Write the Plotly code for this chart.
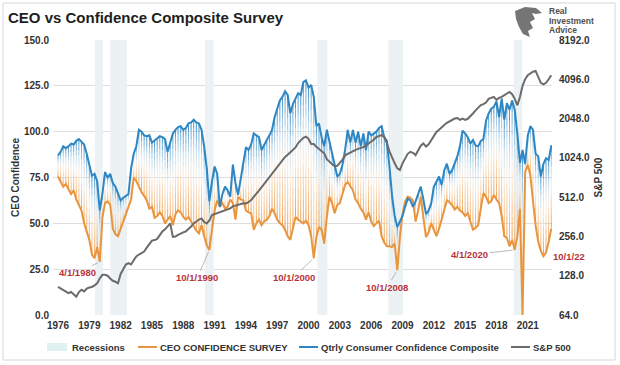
import math
import plotly.graph_objects as go

# ---------------- data (quarterly, 1976Q1 .. 2023Q2) ----------------
ceo_confidence = [
    75.5, 73, 70, 71.5, 69, 66, 68, 63, 60, 57,
    50, 45, 41, 33, 31, 37, 29, 53, 61, 62,
    60, 47, 44, 43, 47, 51, 55, 58, 63, 75,
    73, 70, 67, 65, 62.5, 58, 59, 53, 54, 56,
    54, 50, 52, 54, 49, 55, 57, 56, 53.5, 52,
    53.5, 51, 48, 46, 44.5, 49, 43, 38, 35.5, 48,
    57, 62.5, 59, 61, 58, 59, 63, 61, 52, 64.5,
    63, 62.5, 57, 56, 55.5, 46.5, 50, 52, 49, 51,
    52, 54, 58, 55.5, 52, 50, 49, 46.5, 43, 41,
    46.5, 53.5, 52, 51, 50, 51.5, 49, 43, 31, 42.5,
    48, 46.5, 39, 53.5, 64.5, 61, 55.5, 60, 61, 66,
    71, 72.5, 70, 68, 63, 61, 58, 56, 52, 56,
    51, 48.5, 50, 51.5, 43, 39.5, 37.5, 37.5, 37, 39,
    24.5, 42.5, 55, 62, 64.5, 64, 62.5, 51, 57, 64.5,
    53, 42.5, 45, 50, 46.5, 43, 47, 52, 57, 62.5,
    61.5, 60, 57.5, 59, 57, 56, 54, 55.5, 51, 46.5,
    47.5, 49, 58, 66.5, 64.5, 61, 62, 65.5, 63, 61,
    54, 43, 42, 37.5, 41, 35.5, 43, 58, 0, 78,
    82, 76, 62, 49, 40, 35, 32, 34, 40, 47,
]

consumer_composite = [
    87, 89, 92, 91, 92, 93.5, 93, 95, 96, 94.5,
    93, 88, 82, 76, 77, 73, 57, 66, 78, 75,
    77, 72, 70, 66, 62.5, 64, 65, 66, 80, 88,
    92, 101, 100, 98, 97.5, 98, 94, 95, 96, 97.5,
    97, 96, 89, 94, 99, 101, 102.5, 103, 101, 102,
    104.5, 105, 106.5, 105, 104.5, 101, 92, 80, 62, 73,
    81, 77, 59, 66, 70, 68, 64.5, 82, 72, 65.5,
    75, 83, 91.5, 90, 93, 99, 98, 97, 90, 93,
    95.5, 98, 101, 108, 113, 117, 119, 122, 120, 110,
    115, 118, 121, 120, 127, 128, 124, 125.5, 119, 103,
    104.5, 97, 92, 101, 95, 88, 83, 75.5, 77, 82,
    90, 101, 94, 101, 94, 100, 92, 99, 90, 100,
    98, 99, 100, 102, 103, 97, 95, 81, 65, 54,
    48, 51, 54, 59, 63.5, 62.5, 59, 62, 65.5, 70,
    63, 55, 57, 61, 70, 73, 75.5, 71, 79, 82.5,
    77, 79, 82.5, 86.5, 92, 100.5, 99, 97, 93.5, 95.5,
    92.5, 92, 95, 96, 106, 110, 112.5, 113.5, 116.5, 108,
    118, 106.5, 115.5, 112, 117, 112, 99, 83, 90, 82.5,
    98, 103, 101, 88, 86.5, 75.5, 82.5, 85.5, 84.5, 92.5,
]

sp500 = [
    105, 102, 100, 96, 94, 96, 92, 88.5, 96, 100,
    97, 102, 104, 105, 108, 112, 122, 130, 130, 128,
    122, 117, 115, 112, 132, 145, 156, 160, 156, 168,
    180, 186, 190, 196, 210, 222, 238, 240, 245, 262,
    280, 290, 304, 322, 254, 256, 263, 270, 275, 280,
    290, 305, 322, 335, 345, 352, 330, 322, 340, 374,
    380, 385, 392, 398, 404, 410, 420, 435, 442, 448,
    455, 460, 458, 468, 486, 510, 545, 575, 610, 650,
    690, 740, 780, 830, 875, 930, 980, 1040, 1080, 1130,
    1180, 1230, 1330, 1400, 1460, 1490, 1430, 1310, 1310, 1245,
    1200, 1150, 1110, 1000, 960, 920, 880, 890, 940, 990,
    1070, 1100, 1130, 1150, 1180, 1200, 1220, 1240, 1260, 1320,
    1360, 1410, 1480, 1510, 1530, 1480, 1330, 1150, 1015, 930,
    850, 826, 930, 1015, 1100, 1140, 1120, 1075, 1170, 1270,
    1320, 1250, 1300, 1400, 1490, 1620, 1680, 1770, 1830, 1900,
    1950, 2000, 2050, 2070, 2000, 2050, 2000, 2040, 2120, 2240,
    2370, 2480, 2600, 2640, 2720, 2900, 2950, 3000, 2850, 2950,
    3000, 3100, 3200, 3280, 3150, 2900, 2590, 3000, 3650, 4100,
    4400, 4550, 4680, 4750, 4300, 3850, 3750, 3850, 4100, 4400,
]

quarters = [1976 + q / 4 for q in range(len(ceo_confidence))]

recession_start = [1979.55, 1981.0, 1990.08, 2000.85, 2007.65, 2019.65]
recession_end = [1980.3, 1982.62, 1990.9, 2001.8, 2009.05, 2020.47]

x_tick_years = list(range(1976, 2022, 3))
left_ticks = [0, 25, 50, 75, 100, 125, 150]
right_ticks = [64, 128, 256, 512, 1024, 2048, 4096, 8192]

series_names = ["Recessions", "CEO CONFIDENCE SURVEY",
                "Qtrly Consumer Confidence Composite", "S&P 500"]

# labelled lows: (quarter index, label, x offset px, y offset px, show leader)
callouts = [
    (16, "4/1/1980", -22, 11, True),
    (58, "10/1/1990", -12, 28, True),
    (98, "10/1/2000", -20, 19, True),
    (130, "10/1/2008", -10, 17, True),
    (175, "4/1/2020", -45, 5, True),
    (186, "10/1/22", 26, 0, False),
]

assert len(ceo_confidence) == len(consumer_composite) == len(sp500) == 190

# ---------------- styling ----------------
FONT = "Liberation Sans, Arial, sans-serif"
ORANGE = "#E8953F"
BLUE = "#2E87C3"
GRAY = "#6B6B6B"
REC = "#ECF1F3"
REC_LEG = "#E0EFEF"
TXT = "#333333"
RED = "#B8323A"

L, R, T, B = 53, 68, 40, 50
W_FIG, H_FIG = 620, 365
PW, PH = W_FIG - L - R, H_FIG - T - B


def px_x(px):
    return (px - L) / PW


def px_y(py):
    return (H_FIG - B - py) / PH


def hex2rgb(h):
    h = h.lstrip("#")
    return [int(h[i:i + 2], 16) for i in (0, 2, 4)]


grad_stops = [(0.0, "#EE9D4F"), (0.22, "#F4C593"), (0.5, "#F7F1EA"),
              (0.72, "#C3DCEC"), (1.0, "#3A8FC7")]


def grad_color(t):
    for (t0, c0), (t1, c1) in zip(grad_stops[:-1], grad_stops[1:]):
        if t0 <= t <= t1:
            f = (t - t0) / (t1 - t0)
            a, b = hex2rgb(c0), hex2rgb(c1)
            return "rgb(%d,%d,%d)" % tuple(round(a[k] + (b[k] - a[k]) * f) for k in range(3))
    return grad_stops[-1][1]


fig = go.Figure()

# recessions (filled polygons)
rx, ry = [], []
for s, e in zip(recession_start, recession_end):
    rx += [s, s, e, e, s, None]
    ry += [left_ticks[0], left_ticks[-1], left_ticks[-1], left_ticks[0], left_ticks[0], None]
fig.add_trace(go.Scatter(x=rx, y=ry, mode="lines", fill="toself", fillcolor=REC,
                         line=dict(width=0, color=REC), name=series_names[0],
                         hoverinfo="skip"))

# gradient high-low stripes between the two confidence series
K = 12
for k in range(K):
    sx, sy = [], []
    for q, lo, hi in zip(quarters, ceo_confidence, consumer_composite):
        sx += [q, q, None]
        sy += [lo + (hi - lo) * k / K, lo + (hi - lo) * (k + 1) / K, None]
    fig.add_trace(go.Scatter(x=sx, y=sy, mode="lines",
                             line=dict(width=1, color=grad_color((k + 0.5) / K)),
                             hoverinfo="skip"))

fig.add_trace(go.Scatter(x=quarters, y=ceo_confidence, mode="lines",
                         line=dict(color=ORANGE, width=2), name=series_names[1]))
fig.add_trace(go.Scatter(x=quarters, y=consumer_composite, mode="lines",
                         line=dict(color=BLUE, width=2), name=series_names[2]))
fig.add_trace(go.Scatter(x=quarters, y=sp500, mode="lines", yaxis="y2",
                         line=dict(color=GRAY, width=2), name=series_names[3]))

annotations = []
for idx, label, ax, ay, lead in callouts:
    annotations.append(dict(
        x=quarters[idx], y=ceo_confidence[idx], xref="x", yref="y",
        text="<b>%s</b>" % label, showarrow=True, ax=ax, ay=ay,
        arrowhead=0, arrowwidth=0.8, standoff=2,
        arrowcolor="#A8A8A8" if lead else "rgba(0,0,0,0)",
        font=dict(family=FONT, size=9.5, color=RED)))

# logo text
for word, yy in zip(["Real", "Investment", "Advice"], [11, 20.5, 30]):
    annotations.append(dict(
        xref="paper", yref="paper", x=px_x(547), y=px_y(yy), xanchor="left",
        yanchor="middle", text="<b>%s</b>" % word, showarrow=False,
        font=dict(family=FONT, size=8.5, color="#505050")))

# logo emblem (simple stylised eagle head)
emblem = [(515, 11), (525, 7), (536, 8), (542, 13), (536, 14), (532, 13), (535, 19),
          (530, 22), (533, 28), (528, 31), (530, 37), (523, 34), (519, 27), (516, 19)]
path = "M " + " L ".join("%.4f,%.4f" % (px_x(a), px_y(b)) for a, b in emblem) + " Z"

shapes = [
    dict(type="path", xref="paper", yref="paper", path=path,
         fillcolor="#757575", line=dict(width=0)),
    dict(type="rect", xref="paper", yref="paper",
         x0=px_x(3), x1=px_x(615), y0=px_y(360), y1=px_y(3),
         line=dict(color="#D6D6D6", width=1), fillcolor="rgba(0,0,0,0)", layer="below"),
]

# custom one-row legend (symbol start px, text start px)
LEG_Y = 347
legend_items = [
    (series_names[0], "swatch", REC_LEG, 47, 70),
    (series_names[1], "line", ORANGE, 138, 158),
    (series_names[2], "line", BLUE, 299, 319),
    (series_names[3], "line", GRAY, 511, 531),
]
for name, kind, color, sx0, tx0 in legend_items:
    if kind == "swatch":
        shapes.append(dict(type="rect", xref="paper", yref="paper",
                           x0=px_x(sx0), x1=px_x(sx0 + 20),
                           y0=px_y(LEG_Y + 4), y1=px_y(LEG_Y - 4),
                           fillcolor=color, line=dict(width=0)))
    else:
        shapes.append(dict(type="line", xref="paper", yref="paper",
                           x0=px_x(sx0), x1=px_x(sx0 + 19),
                           y0=px_y(LEG_Y), y1=px_y(LEG_Y),
                           line=dict(color=color, width=2)))
    annotations.append(dict(xref="paper", yref="paper", x=px_x(tx0), y=px_y(LEG_Y),
                            xanchor="left", yanchor="middle", showarrow=False,
                            text="<b>%s</b>" % name,
                            font=dict(family=FONT, size=9.5, color=TXT)))

tickfont = dict(family=FONT, size=10, color=TXT, weight="bold")

fig.update_layout(
    width=W_FIG, height=H_FIG,
    margin=dict(l=L, r=R, t=T, b=B, pad=0, autoexpand=False),
    paper_bgcolor="white", plot_bgcolor="white",
    font=dict(family=FONT, size=10, color=TXT),
    showlegend=False,
    title=dict(text="<b>CEO vs Confidence Composite Survey</b>",
               x=8 / W_FIG, xanchor="left", y=1 - 18 / H_FIG, yanchor="middle",
               font=dict(family=FONT, size=15, color="#1E1E1E")),
    xaxis=dict(range=[1975.52, 2023.32], tickvals=x_tick_years,
               ticktext=[str(y) for y in x_tick_years], showgrid=False,
               zeroline=False, showline=False, ticks="", tickfont=tickfont,
               ticklabelstandoff=3, automargin=False),
    yaxis=dict(range=[0, 150], tickvals=left_ticks,
               ticktext=["%.1f" % v for v in left_ticks],
               gridcolor="#DEDEDE", gridwidth=1, zeroline=False, ticks="",
               tickfont=tickfont, ticklabelstandoff=3, automargin=False,
               title=dict(text="CEO Confidence", standoff=2,
                          font=dict(family=FONT, size=10, color=TXT, weight="bold"))),
    yaxis2=dict(overlaying="y", side="right", type="log",
                range=[math.log10(right_ticks[0]), math.log10(right_ticks[-1])],
                tickvals=right_ticks, ticktext=["%.1f" % v for v in right_ticks],
                showgrid=False, zeroline=False, ticks="", tickfont=tickfont,
                ticklabelstandoff=6, automargin=False,
                title=dict(text="S&P 500", standoff=5,
                           font=dict(family=FONT, size=10, color=TXT, weight="bold"))),
    annotations=annotations,
    shapes=shapes,
)

fig.write_html("out.html", config={"displayModeBar": False},
               post_script="document.body.style.margin='0';document.body.style.padding='0';")
